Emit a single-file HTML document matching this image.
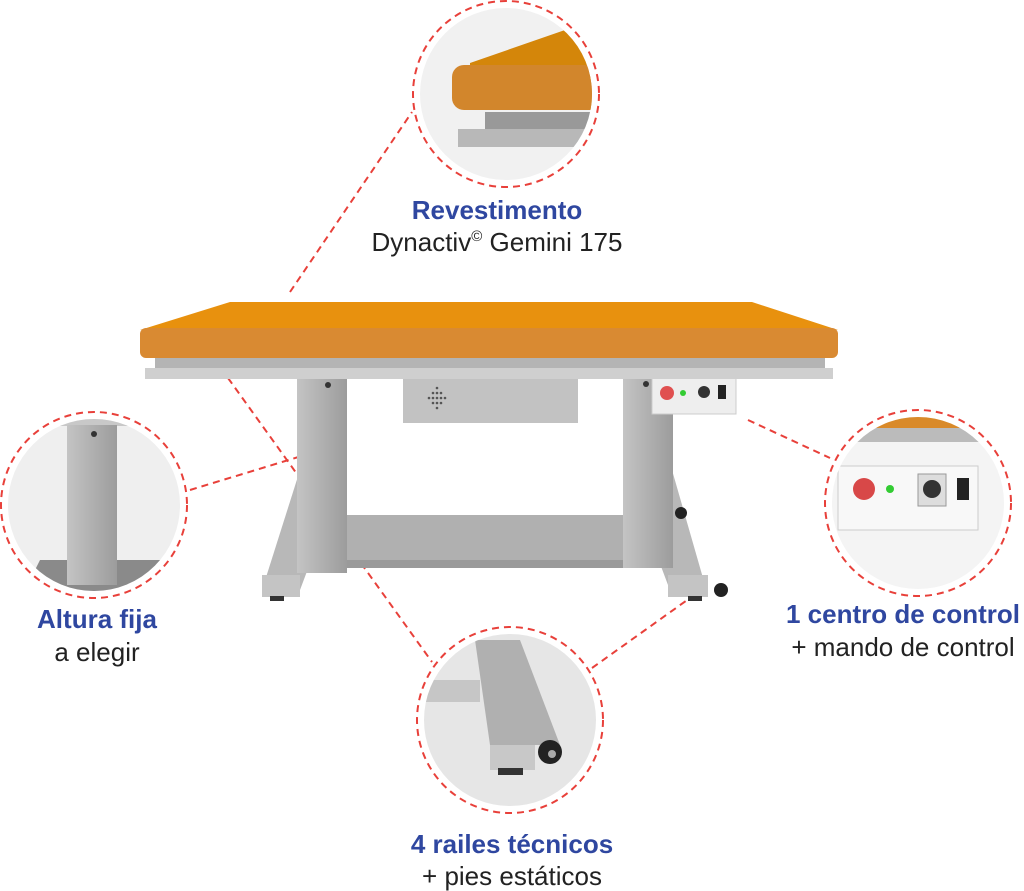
<!DOCTYPE html>
<html><head><meta charset="utf-8"><style>
html,body{margin:0;padding:0;background:#fff;}
svg{display:block;font-family:"Liberation Sans",Arial,sans-serif;}
.b{fill:#2f47a0;font-weight:bold;font-size:26px;text-anchor:middle}
.n{fill:#222;font-size:26px;text-anchor:middle}
.d{stroke:#e8403a;stroke-width:2;stroke-dasharray:7 5;fill:none}
</style></head><body>
<svg width="1024" height="891" viewBox="0 0 1024 891">
<defs>
<linearGradient id="leg" x1="0" x2="1"><stop offset="0" stop-color="#c4c4c4"/><stop offset=".4" stop-color="#b4b4b4"/><stop offset="1" stop-color="#9c9c9c"/></linearGradient>
<clipPath id="c1"><circle cx="506" cy="94" r="86"/></clipPath>
<clipPath id="c2"><circle cx="94" cy="505" r="86"/></clipPath>
<clipPath id="c3"><circle cx="918" cy="503" r="86"/></clipPath>
<clipPath id="c4"><circle cx="510" cy="720" r="86"/></clipPath>
</defs>
<line class="d" x1="290" y1="292" x2="412" y2="112"/>
<line class="d" x1="190" y1="490" x2="305" y2="455"/>
<line class="d" x1="228" y1="378" x2="432" y2="662"/>
<line class="d" x1="592" y1="668" x2="690" y2="598"/>
<line class="d" x1="748" y1="420" x2="830" y2="458"/>

<polygon points="300,515 680,515 690,560 280,560" fill="#b0b0b0"/>
<polygon points="280,560 690,560 690,568 280,568" fill="#9a9a9a"/>
<polygon points="300,470 345,470 300,590 262,590" fill="#b8b8b8"/>
<rect x="262" y="575" width="38" height="22" fill="#c4c4c4"/>
<polygon points="625,470 672,470 705,585 668,585" fill="#b8b8b8"/>
<rect x="668" y="575" width="40" height="22" fill="#c4c4c4"/>
<rect x="270" y="596" width="14" height="5" fill="#333"/>
<rect x="688" y="596" width="14" height="5" fill="#333"/>
<circle cx="721" cy="590" r="7" fill="#222"/><circle cx="681" cy="513" r="6" fill="#222"/>
<rect x="297" y="378" width="50" height="195" fill="url(#leg)"/>
<rect x="623" y="378" width="50" height="190" fill="url(#leg)"/>
<circle cx="328" cy="385" r="3" fill="#333"/><circle cx="646" cy="384" r="3" fill="#333"/>
<rect x="403" y="378" width="175" height="45" fill="#c2c2c2"/>
<g fill="#555"><circle cx="437" cy="388" r="1.3"/><circle cx="433" cy="393" r="1.3"/><circle cx="437" cy="393" r="1.3"/><circle cx="441" cy="393" r="1.3"/><circle cx="429" cy="398" r="1.3"/><circle cx="433" cy="398" r="1.3"/><circle cx="437" cy="398" r="1.3"/><circle cx="441" cy="398" r="1.3"/><circle cx="445" cy="398" r="1.3"/><circle cx="433" cy="403" r="1.3"/><circle cx="437" cy="403" r="1.3"/><circle cx="441" cy="403" r="1.3"/><circle cx="437" cy="408" r="1.3"/></g>
<rect x="652" y="378" width="84" height="36" fill="#eee" stroke="#ccc"/>
<circle cx="667" cy="393" r="7" fill="#e05050"/><circle cx="683" cy="393" r="3" fill="#3c3"/>
<circle cx="704" cy="392" r="6" fill="#333"/><rect x="718" y="385" width="8" height="14" fill="#222"/>
<rect x="155" y="356" width="670" height="12" fill="#b4b4b4"/>
<rect x="145" y="368" width="688" height="11" fill="#cfcfcf"/>
<polygon points="230,302 752,302 838,330 140,330" fill="#e8910e"/>
<rect x="140" y="328" width="698" height="30" rx="6" fill="#d98a32"/>

<circle cx="506" cy="94" r="86" fill="#f1f1f1"/>
<g clip-path="url(#c1)">
<polygon points="470,63 565,30 600,30 600,110 470,110" fill="#d4860a"/>
<rect x="452" y="65" width="160" height="45" rx="12" fill="#d2862c"/>
<rect x="485" y="112" width="130" height="17" fill="#999"/>
<rect x="458" y="129" width="150" height="18" fill="#b8b8b8"/>
</g>
<circle cx="506" cy="94" r="93" class="d"/>

<circle cx="94" cy="505" r="86" fill="#efefef"/>
<g clip-path="url(#c2)">
<rect x="0" y="412" width="200" height="14" fill="#c8c8c8"/>
<polygon points="40,560 180,560 180,600 20,600" fill="#8a8a8a"/>
<rect x="67" y="425" width="50" height="160" fill="url(#leg)"/>
<circle cx="94" cy="434" r="3" fill="#333"/>
</g>
<circle cx="94" cy="505" r="93" class="d"/>

<circle cx="918" cy="503" r="86" fill="#f4f4f4"/>
<g clip-path="url(#c3)">
<rect x="830" y="410" width="180" height="18" fill="#d98a2a"/>
<rect x="830" y="428" width="180" height="14" fill="#bbb"/>
<rect x="838" y="466" width="140" height="64" fill="#f8f8f8" stroke="#ccc"/>
<circle cx="864" cy="489" r="11" fill="#d84848"/><circle cx="890" cy="489" r="4" fill="#3c3"/>
<rect x="918" y="474" width="28" height="32" fill="#ddd" stroke="#999"/><circle cx="932" cy="489" r="9" fill="#333"/>
<rect x="957" y="478" width="12" height="22" fill="#222"/>
</g>
<circle cx="918" cy="503" r="93" class="d"/>

<circle cx="510" cy="720" r="86" fill="#e6e6e6"/>
<g clip-path="url(#c4)">
<rect x="420" y="680" width="60" height="22" fill="#c6c6c6"/>
<polygon points="475,640 520,640 560,745 490,745" fill="#b0b0b0"/>
<rect x="490" y="745" width="45" height="25" fill="#c8c8c8"/>
<circle cx="550" cy="752" r="12" fill="#222"/><circle cx="552" cy="754" r="4" fill="#aaa"/>
<rect x="498" y="768" width="25" height="7" fill="#333"/>
</g>
<circle cx="510" cy="720" r="93" class="d"/>

<text class="b" x="497" y="219">Revestimento</text>
<text class="n" x="497" y="251">Dynactiv<tspan font-size="15" dy="-10">©</tspan><tspan dy="10"> Gemini 175</tspan></text>
<text class="b" x="97" y="628">Altura fija</text>
<text class="n" x="97" y="661">a elegir</text>
<text class="b" x="903" y="623">1 centro de control</text>
<text class="n" x="903" y="656">+ mando de control</text>
<text class="b" x="512" y="853">4 railes técnicos</text>
<text class="n" x="512" y="885">+ pies estáticos</text>
</svg>
</body></html>
